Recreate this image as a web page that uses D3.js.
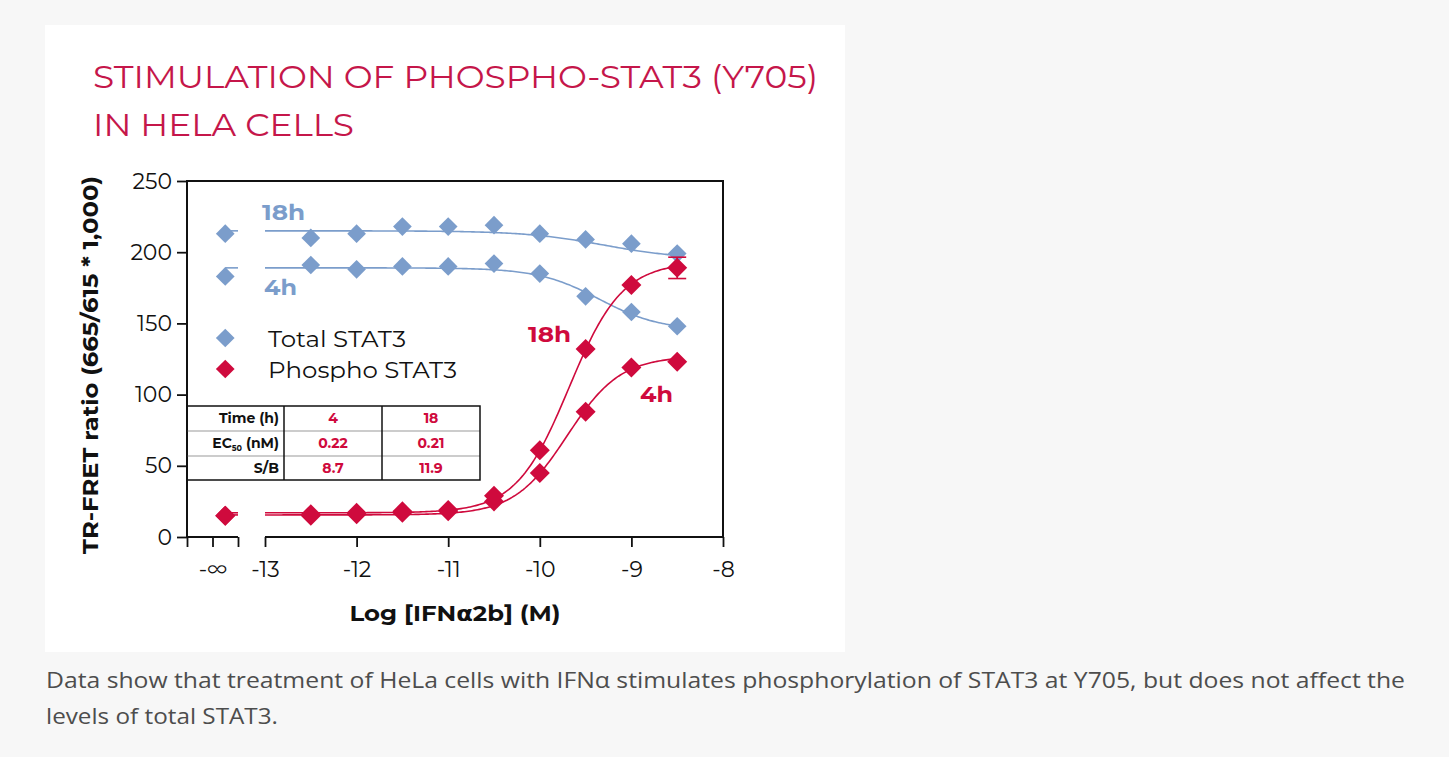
<!DOCTYPE html>
<html><head><meta charset="utf-8">
<script src="https://cdn.jsdelivr.net/npm/d3@7"></script>
<style>
body{margin:0;background:#f7f7f7;}
svg{display:block;}
</style></head><body><div id="graph"></div>
<script>
// log dose (M); first point is the no-IFN control plotted at -inf
var doses = [-Infinity, -12.5, -12, -11.5, -11, -10.5, -10, -9.5, -9, -8.5]

var total18 = [213, 210, 213, 218, 218, 219, 213, 209, 206, 199]
var total4 = [183, 191, 188, 190, 190, 192, 185, 169, 158, 148]
var phospho18 = [15, 16, 17, 18, 19, 29, 61, 132, 177, 189]
var phospho4 = [15, 15, 16, 17, 18, 25, 45, 88, 119, 123]
var phospho18Err = [0, 0, 0, 0, 0, 0, 0, 0, 0, 7.5]

// 4PL fit: [low-dose plateau, high-dose plateau, logEC50, hill]
var fitTotal18 = [215, 195, -9.3, 1]
var fitTotal4 = [189, 145, -9.35, 1.3]
var fitPhospho18 = [17, 193, -9.68, 1.5]
var fitPhospho4 = [15.5, 127, -9.7, 1.5]

var yTicks = [0, 50, 100, 150, 200, 250]
var xTicks = [-13, -12, -11, -10, -9, -8]

var tableRows = ['Time (h)', 'EC50 (nM)', 'S/B']
var table4h = ['4', '0.22', '8.7']
var table18h = ['18', '0.21', '11.9']

var blue = '#7b9dcb', red = '#cf0a3d', titleRed = '#c5164a'
var font = 'Montserrat, "DejaVu Sans", sans-serif'

var svg = d3.select('#graph').append('svg').attr('width', 1449).attr('height', 757)

svg.append('rect').attr('x', 45).attr('y', 25).attr('width', 800).attr('height', 627).attr('fill', '#fff')

// title
var title = svg.append('g').attr('fill', titleRed).style('font-family', font).style('font-size', '32px')
title.append('text').attr('x', 93).attr('y', 88).attr('textLength', 725).attr('lengthAdjust', 'spacingAndGlyphs').text('STIMULATION OF PHOSPHO-STAT3 (Y705)')
title.append('text').attr('x', 93).attr('y', 136).attr('textLength', 261).attr('lengthAdjust', 'spacingAndGlyphs').text('IN HELA CELLS')

// scales
var pLeft = 187, pRight = 723, pTop = 181, pBottom = 537
var infW = 51, gap = 27
var y = d3.scaleLinear().domain([0, 250]).range([pBottom, pTop])
var x = d3.scaleLinear().domain([-13, -8]).range([pLeft + infW + gap, pRight])
var xInf = d3.scaleLinear().domain([0, 1]).range([pLeft, pLeft + infW])
var xPos = d => isFinite(d) ? x(d) : xInf(0.75)

// y axis
var yAxis = svg.append('g').attr('transform', `translate(${pLeft},0)`)
  .call(d3.axisLeft(y).tickValues(yTicks).tickSize(10).tickPadding(5))
yAxis.select('.domain').remove()
yAxis.selectAll('line').attr('stroke', '#111').attr('stroke-width', 1.8)
yAxis.selectAll('text').attr('fill', '#111').style('font-family', font).style('font-size', '22px')

// x axis main segment
var xAxis = svg.append('g').attr('transform', `translate(0,${pBottom})`)
  .call(d3.axisBottom(x).tickValues(xTicks).tickSize(10).tickPadding(14).tickFormat(d => String(d)))
xAxis.select('.domain').remove()
xAxis.selectAll('line').attr('stroke', '#111').attr('stroke-width', 1.8)
xAxis.selectAll('text').attr('fill', '#111').style('font-family', font).style('font-size', '22px')

// x axis -inf segment
var xAxisInf = svg.append('g').attr('transform', `translate(0,${pBottom})`)
  .call(d3.axisBottom(xInf).tickValues([0, 0.5, 1]).tickSize(10).tickPadding(14)
    .tickFormat(d => d == 0.5 ? '-∞' : ''))
xAxisInf.select('.domain').remove()
xAxisInf.selectAll('line').attr('stroke', '#111').attr('stroke-width', 1.8)
xAxisInf.selectAll('text').attr('fill', '#111').style('font-family', font).style('font-size', '22px')

// frame
var frame = svg.append('g').attr('stroke', '#111').attr('stroke-width', 2).attr('fill', 'none')
frame.append('path').attr('d', d3.line()([[xInf(1), pBottom], [pLeft, pBottom], [pLeft, pTop], [pRight, pTop], [pRight, pBottom], [x(-13), pBottom]]))

// axis titles
svg.append('text').attr('transform', `translate(98,${(pBottom + pTop) / 2 + 6}) rotate(-90)`)
  .attr('text-anchor', 'middle').attr('textLength', 378).attr('lengthAdjust', 'spacingAndGlyphs')
  .style('font-family', font).style('font-size', '22px').style('font-weight', 'bold').attr('fill', '#111')
  .text('TR-FRET ratio (665/615 * 1,000)')
svg.append('text').attr('x', 455).attr('y', 621)
  .attr('text-anchor', 'middle').attr('textLength', 211).attr('lengthAdjust', 'spacingAndGlyphs')
  .style('font-family', font).style('font-size', '22px').style('font-weight', 'bold').attr('fill', '#111')
  .text('Log [IFNα2b] (M)')

// table
var tbl = svg.append('g')
var colX = [pLeft, 284, 382, 480], rowY = [406, 431, 456, 480]
tbl.selectAll('line.row').data(rowY.slice(1, 3)).join('line').attr('class', 'row')
  .attr('x1', pLeft).attr('x2', 480).attr('y1', d => d).attr('y2', d => d).attr('stroke', '#999').attr('stroke-width', 1)
tbl.selectAll('line.col').data(colX.slice(1, 3)).join('line').attr('class', 'col')
  .attr('x1', d => d).attr('x2', d => d).attr('y1', rowY[0]).attr('y2', rowY[3]).attr('stroke', '#111').attr('stroke-width', 1.5)
tbl.append('rect').attr('x', pLeft).attr('y', rowY[0]).attr('width', 480 - pLeft).attr('height', rowY[3] - rowY[0])
  .attr('fill', 'none').attr('stroke', '#111').attr('stroke-width', 1.5)
var cellFont = sel => sel.style('font-family', font).style('font-size', '14px').style('font-weight', 'bold')
tableRows.forEach((r, i) => {
  var t = tbl.append('text').attr('x', colX[1] - 5).attr('y', rowY[i] + 17).attr('text-anchor', 'end').attr('fill', '#111').call(cellFont)
  if (r == 'EC50 (nM)') {
    t.append('tspan').text('EC')
    t.append('tspan').attr('dy', 3).style('font-size', '8px').text('50')
    t.append('tspan').attr('dy', -3).text(' (nM)')
  } else t.text(r)
  tbl.append('text').attr('x', (colX[1] + colX[2]) / 2).attr('y', rowY[i] + 17).attr('text-anchor', 'middle').attr('fill', red).call(cellFont).text(table4h[i])
  tbl.append('text').attr('x', (colX[2] + colX[3]) / 2).attr('y', rowY[i] + 17).attr('text-anchor', 'middle').attr('fill', red).call(cellFont).text(table18h[i])
})

// fits
function fit(p) {
  return d => p[0] + (p[1] - p[0]) / (1 + Math.pow(10, p[3] * (p[2] - d)))
}
var curveX = d3.range(-13, -8.5 + 1e-9, 0.02)
var line = d3.line().x(d => d[0]).y(d => y(d[1]))
function drawFit(p, color) {
  var f = fit(p)
  svg.append('path').attr('d', line(curveX.map(d => [x(d), f(d)])))
    .attr('fill', 'none').attr('stroke', color).attr('stroke-width', 1.6)
  svg.append('path').attr('d', line([[xInf(0.75), p[0]], [xInf(1), p[0]]]))
    .attr('fill', 'none').attr('stroke', color).attr('stroke-width', 1.6)
}
drawFit(fitTotal18, blue)
drawFit(fitTotal4, blue)
drawFit(fitPhospho18, red)
drawFit(fitPhospho4, red)

// points
var diamond = s => d3.symbol(d3.symbolSquare, s)()
function drawPoints(vals, color, size) {
  svg.append('g').selectAll('path').data(vals).join('path')
    .attr('d', diamond(size))
    .attr('transform', (d, i) => `translate(${xPos(doses[i])},${y(d)}) rotate(45)`)
    .attr('fill', color)
}
drawPoints(total18, blue, 175)
drawPoints(total4, blue, 175)

// error bars
var eb = svg.append('g').attr('stroke', red).attr('stroke-width', 1.6)
phospho18.forEach((v, i) => {
  var e = phospho18Err[i]
  if (!e) return
  var cx = xPos(doses[i])
  eb.append('line').attr('x1', cx).attr('x2', cx).attr('y1', y(v - e)).attr('y2', y(v + e))
  eb.append('line').attr('x1', cx - 9).attr('x2', cx + 9).attr('y1', y(v - e)).attr('y2', y(v - e))
  eb.append('line').attr('x1', cx - 9).attr('x2', cx + 9).attr('y1', y(v + e)).attr('y2', y(v + e))
})
drawPoints(phospho4, red, 200)
drawPoints(phospho18, red, 200)

// series labels
var lab = (t, cx, cy, c, w) => svg.append('text').attr('x', cx).attr('y', cy).attr('fill', c)
  .attr('textLength', w).attr('lengthAdjust', 'spacingAndGlyphs')
  .style('font-family', font).style('font-size', '21px').style('font-weight', 'bold').text(t)
lab('18h', 262, 220, blue, 43)
lab('4h', 264, 295, blue, 33)
lab('18h', 528, 342, red, 43)
lab('4h', 640, 402, red, 33)

// legend
var legend = [['Total STAT3', blue, 138], ['Phospho STAT3', red, 189]]
legend.forEach((d, i) => {
  var ly = 338 + i * 31
  svg.append('path').attr('d', diamond(175)).attr('transform', `translate(${xInf(0.75)},${ly}) rotate(45)`).attr('fill', d[1])
  svg.append('text').attr('x', 268).attr('y', ly + 9).attr('fill', '#111')
    .attr('textLength', d[2]).attr('lengthAdjust', 'spacingAndGlyphs')
    .style('font-family', font).style('font-size', '22px').text(d[0])
})

// caption
var cap = svg.append('g').attr('fill', '#4d4d4d').style('font-family', '"Segoe UI", "Open Sans", sans-serif').style('font-size', '22px')
cap.append('text').attr('x', 46).attr('y', 688).attr('textLength', 1359).attr('lengthAdjust', 'spacingAndGlyphs')
  .text('Data show that treatment of HeLa cells with IFNα stimulates phosphorylation of STAT3 at Y705, but does not affect the')
cap.append('text').attr('x', 46).attr('y', 724).attr('textLength', 232).attr('lengthAdjust', 'spacingAndGlyphs')
  .text('levels of total STAT3.')
</script></body></html>
